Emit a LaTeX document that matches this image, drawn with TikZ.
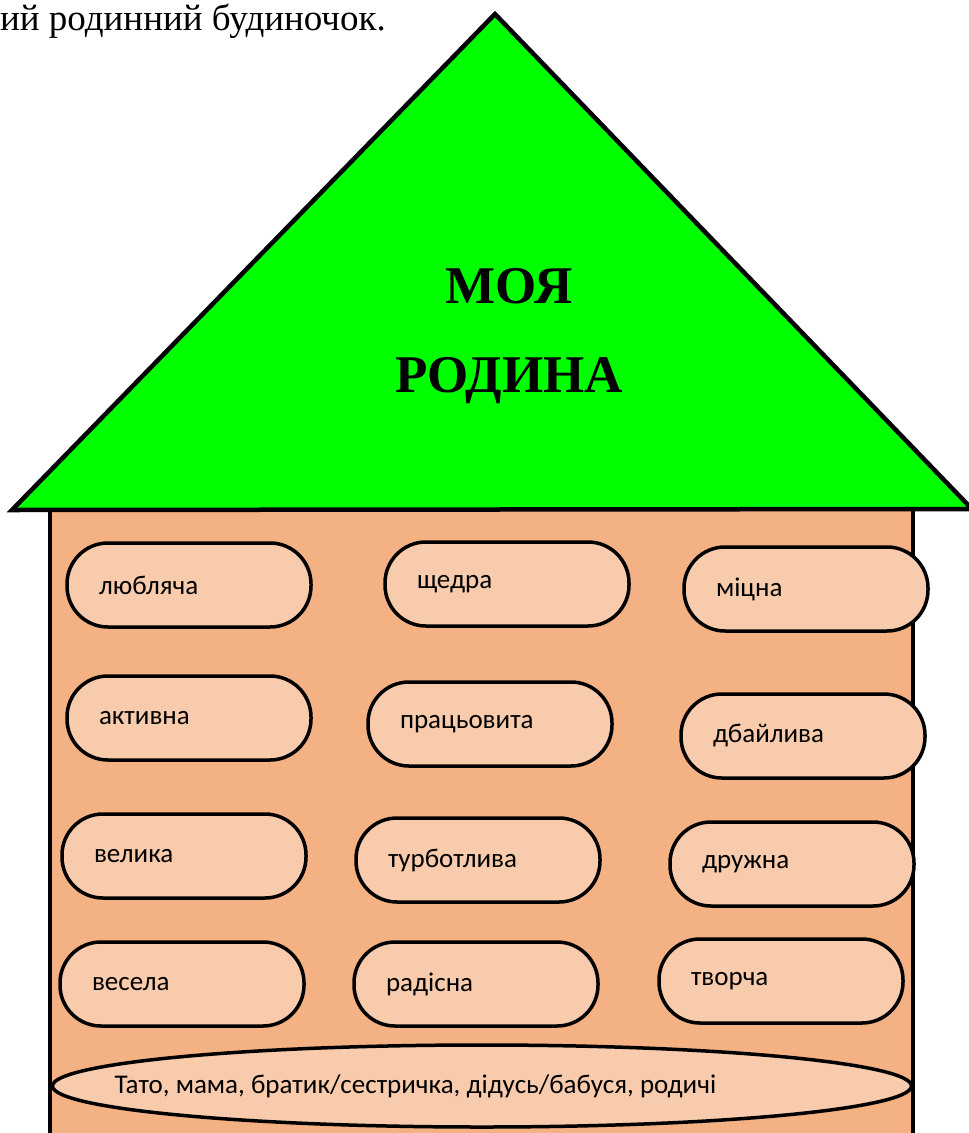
\documentclass[tikz,border=0pt]{standalone}
\usepackage{fontspec}
\setmainfont{Liberation Serif}
\newfontfamily\pillfont{Carlito}
\usepackage{tikz}
\usetikzlibrary{shapes.geometric, positioning}
\definecolor{roofgreen}{RGB}{0,255,0}
\definecolor{wallbrick}{RGB}{244,177,131}
\definecolor{pillfill}{RGB}{248,203,173}

\begin{document}
\begin{tikzpicture}[x=1pt, y=-1pt,
  pill/.style={draw, line width=3.5pt, fill=pillfill, rounded corners=41pt,
    minimum width=244pt, minimum height=84pt, text width=180pt, inner xsep=32pt,
    align=left, font=\pillfont\fontsize{27}{31}\selectfont},
  family/.style={ellipse, draw, line width=3.5pt, fill=pillfill, minimum width=859pt,
    minimum height=82pt, inner sep=0pt, font=\pillfont\fontsize{27}{31}\selectfont}]
\useasboundingbox (0,0) rectangle (969,1133);
% Walls
\fill[wallbrick] (50,505) rectangle (913,1140);
\draw[line width=4.5pt] (50,505) -- (50,1140) (913,505) -- (913,1140);
% Roof
\coordinate (apex) at (495,14);
\coordinate (eaveL) at (12,510);
\coordinate (eaveR) at (972,509);
\draw[line width=4.5pt, fill=roofgreen, line join=miter] (apex) -- (eaveL) -- (eaveR) -- cycle;
% Nodes
\node (intro) [anchor=base east, inner sep=0pt, font=\fontsize{37}{42}\selectfont] at (386,30) {ий родинний будиночок.};
\node (title) [align=center, font=\bfseries\fontsize{53}{89}\selectfont] at (509,336) {МОЯ\\РОДИНА};
\node (lov) [pill] at (189,585) {любляча};
\node (gen) [pill] at (507,584) {щедра};
\node (str) [pill] at (806,589) {міцна};
\node (act) [pill] at (189,718) {активна};
\node (work) [pill] at (490,724) {працьовита};
\node (care) [pill] at (803,736) {дбайлива};
\node (big) [pill] at (184,856) {велика};
\node (kind) [pill] at (478,860) {турботлива};
\node (frnd) [pill] at (792,864) {дружна};
\node (merry) [pill] at (182,984) {весела};
\node (joy) [pill] at (476,984) {радісна};
\node (art) [pill] at (781,981) {творча};
\node (fam) [family] at (482,1086) {\makebox[0pt]{\makebox[735pt][l]{Тато, мама, братик/сестричка, дідусь/бабуся, родичі}}};
\end{tikzpicture}
\end{document}
